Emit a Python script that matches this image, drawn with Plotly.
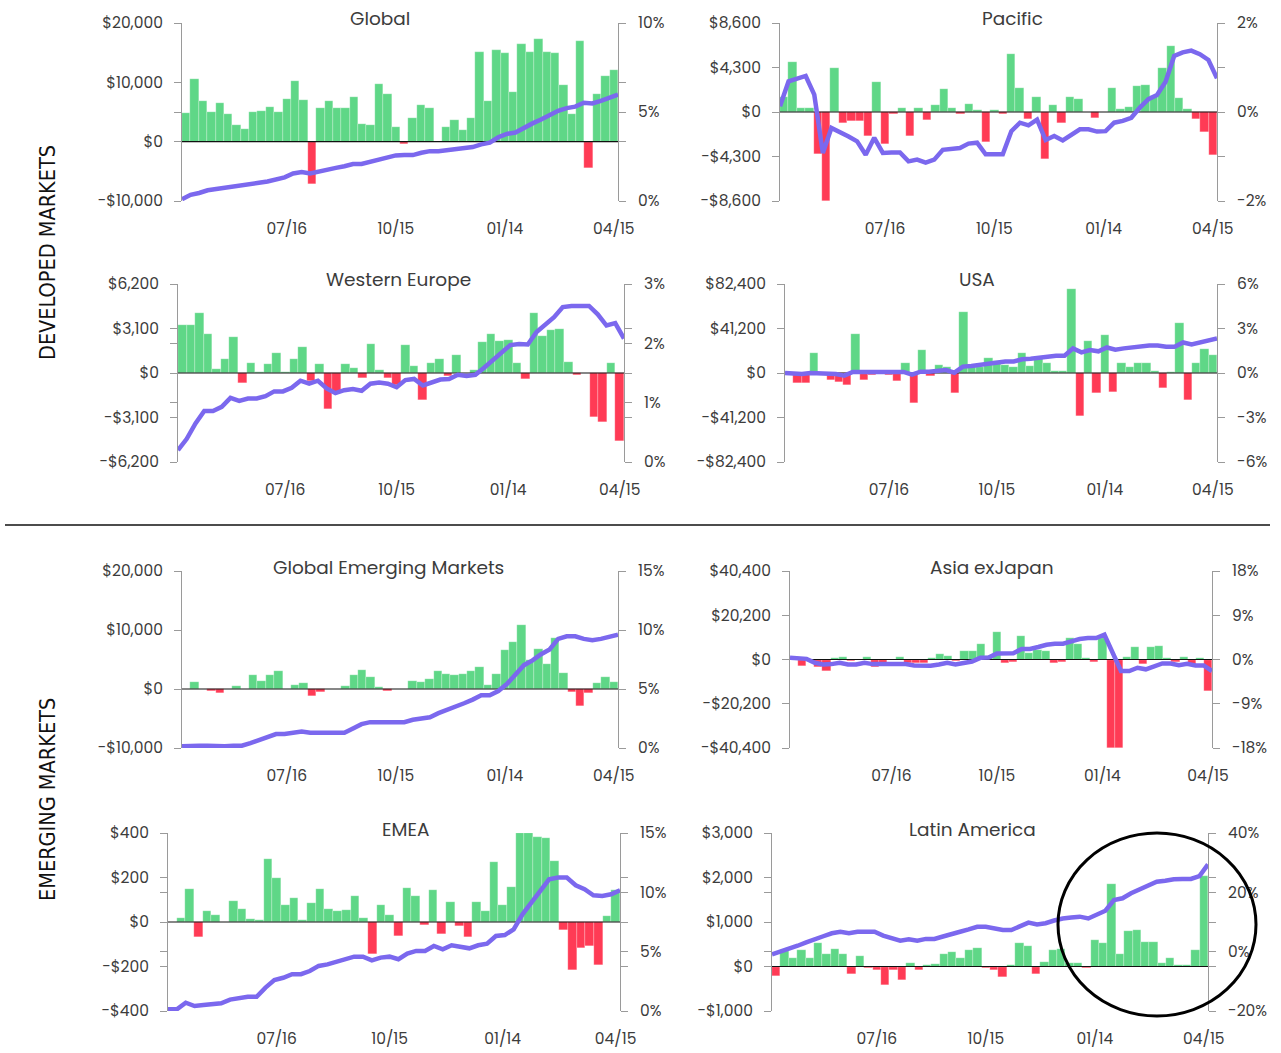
import plotly.graph_objects as go
import pandas as pd

# ---------------- data ----------------
weeks = pd.date_range("2018-04-23", periods=52, freq="7D")
tick_dates = ["2018-07-16", "2018-10-15", "2019-01-14", "2019-04-15"]
tick_labels = ["07/16", "10/15", "01/14", "04/15"]
line_index = list(range(52))

global_flows = [4800, 10600, 6800, 5000, 6500, 4600, 2800, 2100, 5000, 5200,
                5900, 5000, 7200, 10200, 7100, -7200, 5700, 6800, 5700, 5700,
                7500, 3000, 2800, 9700, 8100, 2500, -400, 4000, 6100, 5700,
                0, 2500, 3700, 1900, 4000, 15100, 6800, 15500, 14900, 8400,
                16500, 15100, 17300, 15100, 14900, 9500, 4600, 16900, -4400, 8100,
                11100, 12000]
global_perf = [0.1, 0.35, 0.45, 0.6, 0.67, 0.73, 0.8, 0.88, 0.95, 1.02,
               1.1, 1.2, 1.33, 1.55, 1.63, 1.55, 1.67, 1.8, 1.86, 1.95,
               2.08, 2.08, 2.2, 2.37, 2.5, 2.56, 2.58, 2.58, 2.71, 2.8,
               2.8, 2.86, 2.9, 2.94, 3.03, 3.18, 3.28, 3.58, 3.77, 3.85,
               4.13, 4.36, 4.58, 4.82, 5.07, 5.22, 5.3, 5.52, 5.48, 5.62,
               5.8, 5.98]

pacific_flows = [1440, 4880, 385, 385, -4040, -8600, 4240, -1060, -900, -900,
                 -2340, 2860, -3050, -160, 385, -2340, 385, -740, 670, 2200,
                 385, -190, 800, 230, -2900, 190, -190, 5590, 2360, -650,
                 1490, -4520, 710, -1070, 1490, 1230, 0, -550, 0, 2360,
                 320, 450, 2490, 2620, 1550, 4300, 6330, 1360, 320, -650,
                 -1940, -4170]
pacific_perf = [0.13, 0.69, 0.75, 0.81, 0.39, -0.92, -0.36, -0.45, -0.55, -0.66,
                -0.96, -0.58, -0.92, -0.91, -0.91, -1.11, -1.07, -1.14, -1.07, -0.85,
                -0.82, -0.81, -0.71, -0.69, -0.95, -0.95, -0.95, -0.43, -0.24, -0.3,
                -0.17, -0.63, -0.54, -0.64, -0.5, -0.39, -0.39, -0.44, -0.43, -0.24,
                -0.2, -0.13, 0.1, 0.29, 0.38, 0.68, 1.26, 1.34, 1.38, 1.3,
                1.17, 0.76]

we_flows = [3330, 3330, 4160, 2700, 300, 950, 2520, -690, 690, 50,
            600, 1410, 100, 1000, 1830, -580, 625, -2480, -1320, 625,
            350, -350, 2020, 230, -350, -810, 1960, 490, -1850, 690,
            950, -180, 1250, 0, 210, 2150, 2700, 2240, 2330, 690,
            -390, 4160, 2610, 2980, 3050, 760, -160, 0, -3070, -3440,
            690, -4760]
we_perf = [0.2, 0.39, 0.65, 0.86, 0.86, 0.93, 1.08, 1.03, 1.07, 1.07,
           1.11, 1.19, 1.19, 1.25, 1.37, 1.32, 1.37, 1.24, 1.16, 1.21,
           1.23, 1.2, 1.32, 1.34, 1.32, 1.26, 1.38, 1.4, 1.29, 1.35,
           1.39, 1.4, 1.47, 1.45, 1.47, 1.59, 1.72, 1.83, 1.97, 1.99,
           1.98, 2.19, 2.31, 2.44, 2.61, 2.63, 2.63, 2.63, 2.49, 2.3,
           2.34, 2.08]

usa_flows = [-1000, -9500, -9500, 18700, 0, -6100, -8000, -10700, 35900, -6100,
             -2100, 600, -2100, -7700, 9200, -27900, 21200, -3100, 7700, 5200,
             -18700, 56500, 5800, 5800, 13500, 10700, 7700, 5800, 18700, 6800,
             14400, 9200, 1500, 1800, 77400, -40200, 29200, -18700, 35600, -17200,
             9200, 5200, 9200, 9200, 1800, -13800, 600, 46700, -24600, 9200,
             22100, 16600]
usa_perf = [0, -0.07, -0.07, 0, 0, 0, -0.07, -0.18, 0.07, 0.07,
            0.07, 0.07, 0.07, 0.07, 0.07, -0.11, 0.09, 0.09, 0.13, 0.2,
            0.02, 0.43, 0.47, 0.56, 0.65, 0.72, 0.78, 0.78, 0.92, 0.96,
            1.0, 1.1, 1.16, 1.16, 1.66, 1.39, 1.55, 1.46, 1.72, 1.57,
            1.66, 1.75, 1.79, 1.86, 1.86, 1.77, 1.77, 2.06, 1.93, 2.04,
            2.2, 2.33]

gem_flows = [0, 1180, 0, -390, -730, 0, 560, 0, 2300, 1400,
             2300, 2980, 0, 730, 960, -1240, -560, 0, 0, 560,
             2300, 3260, 2080, 340, -390, 0, 0, 1400, 1180, 1630,
             2980, 2530, 2300, 2530, 2980, 3680, 680, 2490, 6550, 7900,
             10850, 5000, 6780, 4180, 8640, 2770, -450, -2820, -730, 960,
             2030, 1190]
gem_perf = [0.14, 0.2, 0.2, 0.2, 0.14, 0.14, 0.2, 0.2, 0.42, 0.65,
            0.87, 1.18, 1.18, 1.29, 1.4, 1.29, 1.29, 1.29, 1.29, 1.29,
            1.66, 2.02, 2.19, 2.19, 2.19, 2.19, 2.19, 2.39, 2.5, 2.61,
            2.95, 3.2, 3.46, 3.79, 4.1, 4.47, 4.47, 4.83, 5.42, 6.24,
            7.02, 7.42, 7.95, 8.35, 9.25, 9.47, 9.47, 9.25, 9.13, 9.25,
            9.47, 9.61]

asia_flows = [0, -3000, 0, -3300, -5300, 900, 1360, -750, 0, 1200,
              -3300, -1500, 0, 1200, -1500, -1500, -1500, 750, 2560, 1800,
              -750, 3770, 3770, 7230, 1500, 12660, -1500, -1050, 10850, 2860,
              4520, 3770, -1500, -1050, 9800, 7230, 900, -1050, 9800, -40400,
              -40400, 1200, 5580, -1960, 5580, 6030, 900, -1050, 1360, -2400,
              900, -14300]
asia_perf = [0.34, 0.13, 0.13, -0.67, -1.0, -0.94, -0.67, -1.0, -1.0, -0.67,
             -0.94, -0.94, -0.94, -0.94, -0.94, -1.2, -1.28, -1.28, -1.0, -0.67,
             -1.0, -0.67, -0.4, 0.34, 0.4, 1.2, 1.28, 1.28, 2.15, 2.15,
             2.55, 3.0, 3.2, 3.2, 3.7, 4.17, 4.37, 4.37, 5.04, 1.34,
             -2.35, -2.35, -1.68, -2.0, -1.34, -0.8, -0.8, -1.14, -0.87, -1.2,
             -1.2, -2.35]

emea_flows = [0, 18, 150, -69, 48, 33, 0, 96, 60, 15,
              9, 281, 197, 78, 107, 7, 85, 150, 60, 48,
              55, 119, 18, -146, 78, 33, -64, 155, 115, -12,
              143, -54, 90, -16, -69, 90, 48, 269, 75, 158,
              400, 400, 384, 378, 275, -34, -217, -116, -109, -194,
              25, 143]
emea_perf = [0.14, 0.14, 0.7, 0.42, 0.5, 0.62, 0.65, 0.96, 1.12, 1.2,
             1.2, 1.97, 2.6, 2.8, 3.1, 3.1, 3.37, 3.8, 3.93, 4.16,
             4.3, 4.58, 4.58, 4.27, 4.5, 4.58, 4.36, 4.83, 5.06, 5.06,
             5.48, 5.2, 5.54, 5.42, 5.28, 5.54, 5.68, 6.32, 6.4, 6.88,
             8.15, 9.13, 10.17, 11.1, 11.24, 11.24, 10.6, 10.26, 9.75, 9.7,
             9.84, 10.17]

latam_flows = [-210, 350, 190, 370, 200, 520, 290, 390, 280, -170,
               240, -40, -80, -410, -80, -300, 90, -75, 40, 60,
               280, 330, 190, 360, 420, -40, -80, -230, 30, 520,
               450, -160, 100, 370, 390, 90, 90, -40, 600, 520,
               1850, 290, 790, 820, 560, 540, 70, 190, 40, 40,
               370, 2040]
latam_perf = [-0.9, 0.2, 1.1, 2.0, 3.1, 4.3, 5.2, 6.2, 6.7, 6.2,
              6.7, 6.7, 6.7, 5.4, 4.7, 3.7, 4.2, 3.7, 4.3, 4.3,
              5.1, 6.1, 6.7, 7.5, 8.4, 8.4, 7.9, 7.3, 7.3, 8.7,
              9.8, 9.2, 9.6, 10.5, 11.2, 11.5, 11.8, 11.2, 12.4, 13.8,
              17.4, 18.0, 19.7, 21.1, 22.3, 23.6, 23.9, 24.4, 24.5, 24.5,
              25.5, 29.4]

titles = ["Global", "Pacific", "Western Europe", "USA",
          "Global Emerging Markets", "Asia exJapan", "EMEA", "Latin America"]
left_ticks = [[-10000, 0, 10000, 20000], [-8600, -4300, 0, 4300, 8600],
              [-6200, -3100, 0, 3100, 6200], [-82400, -41200, 0, 41200, 82400],
              [-10000, 0, 10000, 20000], [-40400, -20200, 0, 20200, 40400],
              [-400, -200, 0, 200, 400], [-1000, 0, 1000, 2000, 3000]]
right_ticks = [[0, 5, 10], [-2, 0, 2], [0, 1, 2, 3], [-6, -3, 0, 3, 6],
               [0, 5, 10, 15], [-18, -9, 0, 9, 18], [0, 5, 10, 15], [-20, 0, 20, 40]]
flows = [global_flows, pacific_flows, we_flows, usa_flows,
         gem_flows, asia_flows, emea_flows, latam_flows]
perfs = [global_perf, pacific_perf, we_perf, usa_perf,
         gem_perf, asia_perf, emea_perf, latam_perf]

# ---------------- layout / style ----------------
W, H = 1281, 1053
# plot boxes in pixels: left, right, top, bottom
boxes = [(182, 618, 23, 201), (780, 1217, 23, 201),
         (178, 624, 284, 462), (785, 1217, 284, 462),
         (182, 618, 571, 748), (790, 1212, 571, 748),
         (168, 620, 833, 1011), (772, 1208, 833, 1011)]
title_x = [380, 1012, 398, 977, 388, 992, 405, 973]

GREEN = "#5fd787"
RED = "#ff3b55"
PURPLE = "#7b68ee"
AXIS = "#9a9a9a"
TEXT = "#3c3c3c"
FONT = "Poppins, 'Open Sans', sans-serif"

def money(v):
    s = f"${abs(v):,}"
    return "-" + s if v < 0 else s

def mapv(v, a0, a1, b0, b1):
    return b0 + (v - a0) * (b1 - b0) / (a1 - a0)

half = pd.Timedelta(days=3.5)
x_range = [weeks[0] - half, weeks[-1] + half]
bar_width = 7 * 24 * 3600 * 1000

fig = go.Figure()
layout = dict(
    template="none",
    width=W, height=H, margin=dict(l=0, r=0, t=0, b=0, pad=0, autoexpand=False),
    paper_bgcolor="white", plot_bgcolor="white",
    font=dict(family=FONT, size=15.5, color=TEXT),
    showlegend=False, bargap=0,
)
annotations = []

def xname(n):
    return "x" if n == 1 else f"x{n}"

def xkey(n):
    return "xaxis" if n == 1 else f"xaxis{n}"

def yname(n):
    return "y" if n == 1 else f"y{n}"

def ykey(n):
    return "yaxis" if n == 1 else f"yaxis{n}"

for k in range(8):
    bx, lx = 2 * k + 1, 2 * k + 2
    l, r, t, b = boxes[k]
    lt, rt = left_ticks[k], right_ticks[k]
    lr = [lt[0], lt[-1]]
    rr = [rt[0], rt[-1]]
    # extra unlabeled ticks where the other axis has ticks
    l_extra = [mapv(v, rr[0], rr[1], lr[0], lr[1]) for v in rt]
    l_extra = [v for v in l_extra if all(abs(v - u) > 1e-6 * max(1, abs(u)) for u in lt)]
    r_extra = [mapv(v, lr[0], lr[1], rr[0], rr[1]) for v in lt]
    r_extra = [v for v in r_extra if all(abs(v - u) > 1e-6 for u in rt)]

    fl = flows[k]
    fig.add_trace(go.Bar(
        x=weeks, y=fl, width=bar_width,
        marker=dict(color=[GREEN if v >= 0 else RED for v in fl],
                    line=dict(width=0.4, color="rgba(255,255,255,0.6)")),
        xaxis=xname(bx), yaxis=yname(bx), hoverinfo="x+y"))
    fig.add_trace(go.Scatter(
        x=x_range, y=[0, 0], mode="lines",
        line=dict(color="#111111", width=1.2),
        xaxis=xname(bx), yaxis=yname(bx), hoverinfo="skip"))
    fig.add_trace(go.Scatter(
        x=line_index, y=perfs[k], mode="lines",
        line=dict(color=PURPLE, width=4.5),
        xaxis=xname(lx), yaxis=yname(lx)))

    dom_x = [l / W, r / W]
    dom_y = [1 - b / H, 1 - t / H]
    layout[xkey(bx)] = dict(
        domain=dom_x, anchor=yname(bx), type="date", range=x_range,
        tickvals=tick_dates, ticktext=tick_labels,
        ticks="outside", ticklen=13, tickcolor="rgba(0,0,0,0)",
        showline=False, showgrid=False, zeroline=False, automargin=False,
        tickfont=dict(size=15.5, color=TEXT))
    layout[xkey(lx)] = dict(
        overlaying=xname(bx), range=[line_index[0], line_index[-1]],
        visible=False, anchor=yname(lx), automargin=False)
    layout[ykey(bx)] = dict(
        domain=dom_y, anchor=xname(bx), range=lr,
        tickvals=lt + l_extra, ticktext=[money(v) for v in lt] + [""] * len(l_extra),
        ticks="outside", ticklen=7, tickcolor=AXIS, tickwidth=1,
        showline=True, linecolor=AXIS, linewidth=1,
        showgrid=False, zeroline=False, ticklabelstandoff=8, automargin=False,
        tickfont=dict(size=15.5, color=TEXT))
    layout[ykey(lx)] = dict(
        overlaying=yname(bx), side="right", anchor=xname(bx), range=rr,
        tickvals=rt + r_extra, ticktext=[f"{v}%" for v in rt] + [""] * len(r_extra),
        ticks="outside", ticklen=7, tickcolor=AXIS, tickwidth=1,
        showline=True, linecolor=AXIS, linewidth=1,
        showgrid=False, zeroline=False, ticklabelstandoff=9, automargin=False,
        tickfont=dict(size=15.5, color=TEXT))
    annotations.append(dict(
        text=titles[k], x=title_x[k] / W, y=1 - (t - 4) / H,
        xref="paper", yref="paper", xanchor="center", yanchor="middle",
        showarrow=False, font=dict(size=18.5, color=TEXT, family=FONT)))

side_font = dict(family="'DejaVu Sans Condensed', 'Liberation Sans Narrow', 'Arial Narrow', sans-serif",
                 size=21.5, color="#111111")
annotations.append(dict(text="DEVELOPED MARKETS", x=47 / W, y=1 - 253 / H,
                        xref="paper", yref="paper", textangle=-90, showarrow=False,
                        xanchor="center", yanchor="middle", font=side_font))
annotations.append(dict(text="EMERGING MARKETS", x=47 / W, y=1 - 800 / H,
                        xref="paper", yref="paper", textangle=-90, showarrow=False,
                        xanchor="center", yanchor="middle", font=side_font))
layout["annotations"] = annotations
layout["shapes"] = [
    dict(type="line", xref="paper", yref="paper", x0=5 / W, x1=1270 / W,
         y0=1 - 525 / H, y1=1 - 525 / H, line=dict(color="#111111", width=1.5)),
    dict(type="circle", xref="paper", yref="paper", x0=1058 / W, x1=1256 / W,
         y0=1 - 1016 / H, y1=1 - 833 / H, line=dict(color="#000000", width=3)),
]

fig.update_layout(**layout)
fig.write_html("out.html", config={"displayModeBar": False},
               post_script="document.body.style.margin='0px';document.body.style.overflow='hidden';")
